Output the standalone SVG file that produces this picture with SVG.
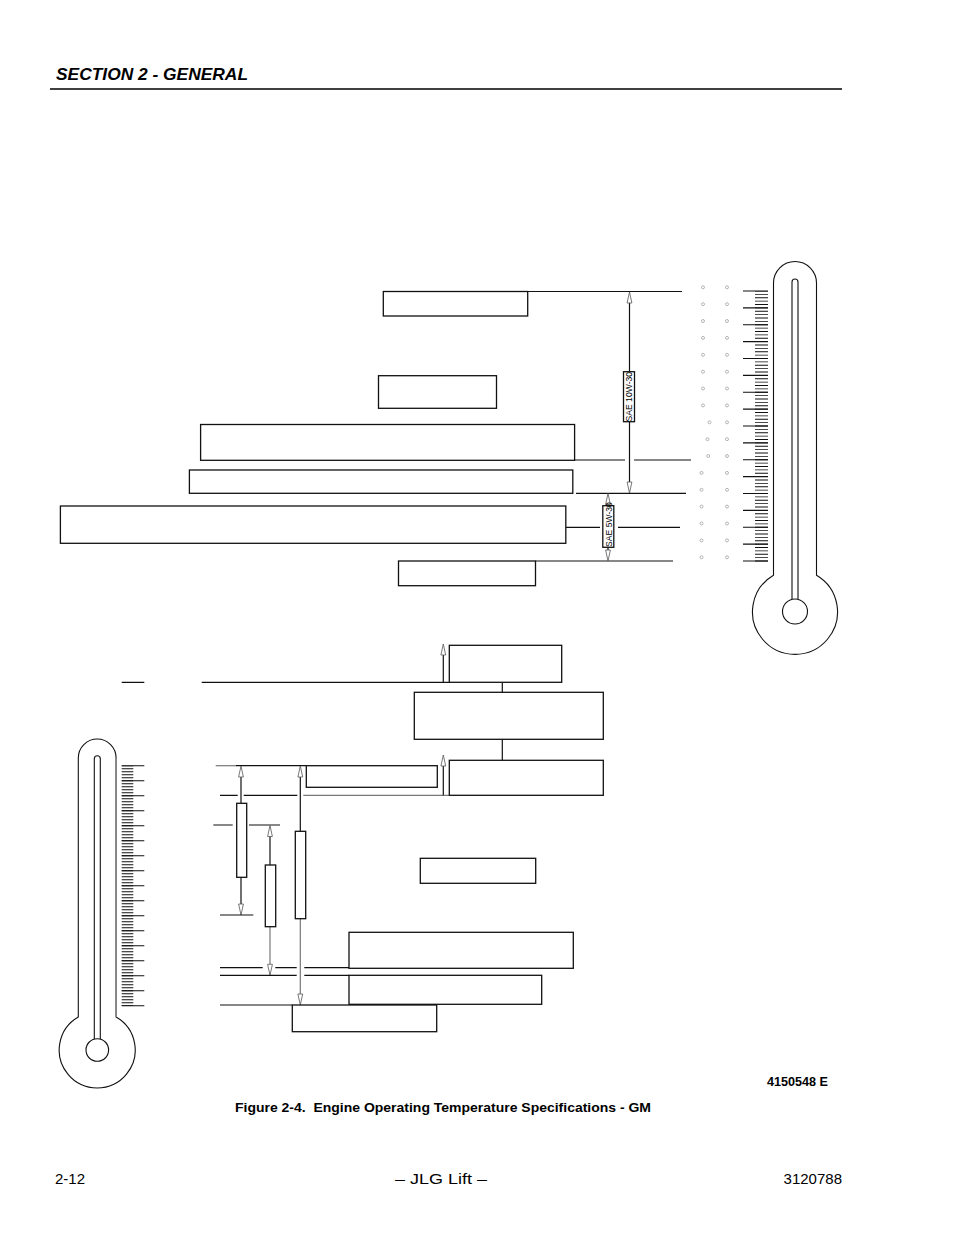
<svg xmlns="http://www.w3.org/2000/svg" xmlns:xlink="http://www.w3.org/1999/xlink" width="954" height="1235" viewBox="0 0 954 1235">
<style>
.bx{fill:#fff;stroke:#111;stroke-width:1.3}
.ln{fill:none;stroke:#111;stroke-width:1.2}
.gl{fill:none;stroke:#777;stroke-width:1.2}
.th{fill:#fff;stroke:#111;stroke-width:1.1}
.tk{fill:none;stroke:#111;stroke-width:1.1}
.dg{fill:none;stroke:#888;stroke-width:0.6}
.ah{fill:#fff;stroke:#555;stroke-width:0.8}
.hd{font-family:"Liberation Sans",Arial,sans-serif;font-weight:bold;font-style:italic;font-size:17px;fill:#000}
.ft{font-family:"Liberation Sans",Arial,sans-serif;font-size:15px;fill:#000}
.cap{font-family:"Liberation Sans",Arial,sans-serif;font-weight:bold;font-size:13.5px;fill:#000}
.sae{font-family:"Liberation Sans",Arial,sans-serif;font-size:8.6px;fill:#000}
</style>
<defs>
<path id="ahUp" class="ah" d="M0,0 L2.4,11 L-2.4,11 Z"/>
<path id="ahDn" class="ah" d="M0,0 L2.4,-11 L-2.4,-11 Z"/>
</defs>
<rect width="954" height="1235" fill="#fff"/>

<g id="header">
<text class="hd" x="56" y="80" textLength="192" lengthAdjust="spacingAndGlyphs">SECTION 2 - GENERAL</text>
<line x1="50" y1="89" x2="842" y2="89" stroke="#000" stroke-width="1.3"/>
</g>

<g id="thermometer-top">
<path class="th" d="M773.5,575.2 V283 A21.5,21.5 0 0 1 816.5,283 V575.2 A42.5,42.5 0 1 1 773.5,575.2 Z"/>
<path class="th" fill="none" d="M792,599 V282 A3,3 0 0 1 798,282 V599"/>
<circle class="th" cx="795" cy="611.5" r="12.5"/>
<line x1="761.5" y1="291" x2="761.5" y2="561.5" stroke="#111" stroke-width="13" stroke-dasharray="0.9 2.475" stroke-dashoffset="0.45"/>
<path class="tk" d="M743,291 H768 M743,307.9 H768 M743,324.75 H768 M743,341.6 H768 M743,358.5 H768 M743,375.4 H768 M743,392.25 H768 M743,409.1 H768 M743,426 H768 M743,442.9 H768 M743,459.75 H768 M743,476.6 H768 M743,493.5 H768 M743,510.4 H768 M743,527.25 H768 M743,544.1 H768 M743,561 H768"/>
<g class="dg">
<circle cx="703" cy="287.3" r="1.5"/><circle cx="727" cy="287.3" r="1.5"/>
<circle cx="703" cy="304.2" r="1.5"/><circle cx="727" cy="304.2" r="1.5"/>
<circle cx="703" cy="321" r="1.5"/><circle cx="727" cy="321" r="1.5"/>
<circle cx="703" cy="337.9" r="1.5"/><circle cx="727" cy="337.9" r="1.5"/>
<circle cx="703" cy="354.8" r="1.5"/><circle cx="727" cy="354.8" r="1.5"/>
<circle cx="703" cy="371.7" r="1.5"/><circle cx="727" cy="371.7" r="1.5"/>
<circle cx="703" cy="388.5" r="1.5"/><circle cx="727" cy="388.5" r="1.5"/>
<circle cx="703" cy="405.4" r="1.5"/><circle cx="727" cy="405.4" r="1.5"/>
<circle cx="709.5" cy="422.3" r="1.5"/><circle cx="727" cy="422.3" r="1.5"/>
<circle cx="707.5" cy="439.2" r="1.5"/><circle cx="727" cy="439.2" r="1.5"/>
<circle cx="708.3" cy="456" r="1.5"/><circle cx="727" cy="456" r="1.5"/>
<circle cx="701.5" cy="472.9" r="1.5"/><circle cx="727" cy="472.9" r="1.5"/>
<circle cx="701.5" cy="489.8" r="1.5"/><circle cx="727" cy="489.8" r="1.5"/>
<circle cx="701.5" cy="506.6" r="1.5"/><circle cx="727" cy="506.6" r="1.5"/>
<circle cx="701.5" cy="523.5" r="1.5"/><circle cx="727" cy="523.5" r="1.5"/>
<circle cx="701.5" cy="540.4" r="1.5"/><circle cx="727" cy="540.4" r="1.5"/>
<circle cx="701.5" cy="557.3" r="1.5"/><circle cx="727" cy="557.3" r="1.5"/>
</g>
</g>

<g id="thermometer-bottom">
<path class="th" d="M78.3,1017 V757.9 A18.9,18.9 0 0 1 116.1,757.9 V1017 A38,38 0 1 1 78.3,1017 Z"/>
<line x1="116.1" y1="758" x2="116.1" y2="1017" stroke="#888" stroke-width="1.6"/>
<path class="th" fill="none" d="M94.3,1039.1 V758.7 A3,3 0 0 1 100.3,758.7 V1039.1"/>
<circle class="th" cx="97.3" cy="1050" r="11.3"/>
<line x1="127.5" y1="765.7" x2="127.5" y2="1006" stroke="#111" stroke-width="11.6" stroke-dasharray="0.9 2.1" stroke-dashoffset="0.45"/>
<path class="tk" d="M121.7,765.7 H144.3 M121.7,780.7 H144.3 M121.7,795.7 H144.3 M121.7,810.7 H144.3 M121.7,825.7 H144.3 M121.7,840.7 H144.3 M121.7,855.7 H144.3 M121.7,870.7 H144.3 M121.7,885.7 H144.3 M121.7,900.7 H144.3 M121.7,915.7 H144.3 M121.7,930.7 H144.3 M121.7,945.7 H144.3 M121.7,960.7 H144.3 M121.7,975.7 H144.3 M121.7,990.7 H144.3 M121.7,1005.7 H144.3"/>
</g>

<g id="connectors">
<path class="ln" d="M527.7,291.5 H682"/>
<path class="ln" d="M574,460 H625 M634,460 H691"/>
<path class="ln" d="M576,493.3 H686"/>
<path class="ln" d="M566,527.3 H600 M618,527.3 H680"/>
<path class="ln" d="M535.5,561 H673"/>
<path class="ln" d="M629.5,302 V371.7 M629.5,421.7 V483"/>
<use xlink:href="#ahUp" x="629.5" y="292"/>
<use xlink:href="#ahDn" x="629.5" y="493"/>
<path class="ln" d="M608,504 V505.7 M608,547.3 V550"/>
<use xlink:href="#ahUp" x="608" y="493.5"/>
<use xlink:href="#ahDn" x="608" y="561"/>
<path class="ln" d="M121.7,682.3 H144.3 M201.7,682.3 H449.3"/>
<path class="ln" d="M443.3,682.3 V655"/>
<use xlink:href="#ahUp" x="443.3" y="644"/>
<path class="ln" d="M502.3,682.3 V692.3 M502.3,739.3 V760.3"/>
<path class="gl" d="M215.7,765.7 H236"/>
<path class="ln" d="M236,765.7 H306.3"/>
<path class="ln" d="M220,795.3 H237.7 M243.7,795.3 H297.3"/>
<path class="gl" d="M303.3,795.3 H449.3"/>
<path class="ln" d="M443.3,795.3 V766"/>
<use xlink:href="#ahUp" x="443.3" y="755"/>
<path class="ln" d="M241,776.7 V803.3"/>
<use xlink:href="#ahUp" x="241" y="766"/>
<path class="ln" d="M300.3,776.7 V831.3"/>
<use xlink:href="#ahUp" x="300.3" y="766"/>
<path class="ln" d="M213.3,825 H232.7 M249,825 H280"/>
<path class="ln" d="M270,836 V865"/>
<use xlink:href="#ahUp" x="270" y="825.5"/>
<path class="ln" d="M241,877.3 V904"/>
<use xlink:href="#ahDn" x="241" y="915"/>
<path class="ln" d="M220,915 H253.3"/>
<path class="gl" d="M270,926.7 V964.3"/>
<use xlink:href="#ahDn" x="270" y="975.3"/>
<path class="gl" d="M300.3,918.7 V994"/>
<use xlink:href="#ahDn" x="300.3" y="1005"/>
<path class="ln" d="M220,967.7 H262.7 M275.3,967.7 H296.7 M304.3,967.7 H349"/>
<path class="ln" d="M220,975.3 H296.7 M304.3,975.3 H349"/>
<path class="ln" d="M220,1005 H292.3"/>
</g>

<g id="sae-10w-30">
<rect class="bx" x="623.5" y="371.7" width="11" height="50" stroke-width="1"/>
<text class="sae" transform="translate(632.3,396.7) rotate(-90)" text-anchor="middle">SAE 10W-30</text>
</g>
<g id="sae-5w-30">
<rect class="bx" x="602.8" y="505.7" width="11" height="41.6" stroke-width="1"/>
<text class="sae" transform="translate(611.6,524.5) rotate(-90)" text-anchor="middle">SAE 5W-30</text>
</g>

<g id="box-a"><rect class="bx" x="383.3" y="291.5" width="144.4" height="24.5"/></g>
<g id="box-b"><rect class="bx" x="378.5" y="375.7" width="118" height="32.6"/></g>
<g id="box-c"><rect class="bx" x="200.6" y="424.5" width="374" height="35.8"/></g>
<g id="box-d"><rect class="bx" x="189.4" y="470" width="383.4" height="23.3"/></g>
<g id="box-e"><rect class="bx" x="60.4" y="506" width="505.4" height="37.3"/></g>
<g id="box-f"><rect class="bx" x="398.5" y="561" width="137" height="24.7"/></g>
<g id="box-g"><rect class="bx" x="449.3" y="645.3" width="112.4" height="37"/></g>
<g id="box-h"><rect class="bx" x="414.3" y="692.3" width="189" height="47"/></g>
<g id="box-i"><rect class="bx" x="449.3" y="760.3" width="154" height="35"/></g>
<g id="box-j"><rect class="bx" x="306.3" y="765.7" width="131" height="21.6"/></g>
<g id="box-k"><rect class="bx" x="349" y="932.3" width="224.3" height="36"/></g>
<g id="box-l"><rect class="bx" x="349" y="975.3" width="192.7" height="29"/></g>
<g id="box-m"><rect class="bx" x="292.3" y="1005" width="144.4" height="26.7"/></g>
<g id="box-n"><rect class="bx" x="420.3" y="858.3" width="115.4" height="25"/></g>

<g id="bar-1"><rect class="bx" x="236.7" y="803.3" width="10" height="74"/></g>
<g id="bar-2"><rect class="bx" x="265.3" y="865" width="10.4" height="61.7"/></g>
<g id="bar-3"><rect class="bx" x="295.3" y="831.3" width="10.4" height="87.4"/></g>

<g id="caption">
<text class="cap" x="767" y="1086" font-size="12px" textLength="61" lengthAdjust="spacingAndGlyphs">4150548 E</text>
<text class="cap" x="235" y="1112" xml:space="preserve" textLength="416" lengthAdjust="spacingAndGlyphs">Figure 2-4.  Engine Operating Temperature Specifications - GM</text>
</g>

<g id="footer">
<text class="ft" x="55" y="1184">2-12</text>
<text class="ft" x="395" y="1184" textLength="92" lengthAdjust="spacingAndGlyphs">– JLG Lift –</text>
<text class="ft" x="842" y="1184" text-anchor="end">3120788</text>
</g>
</svg>
